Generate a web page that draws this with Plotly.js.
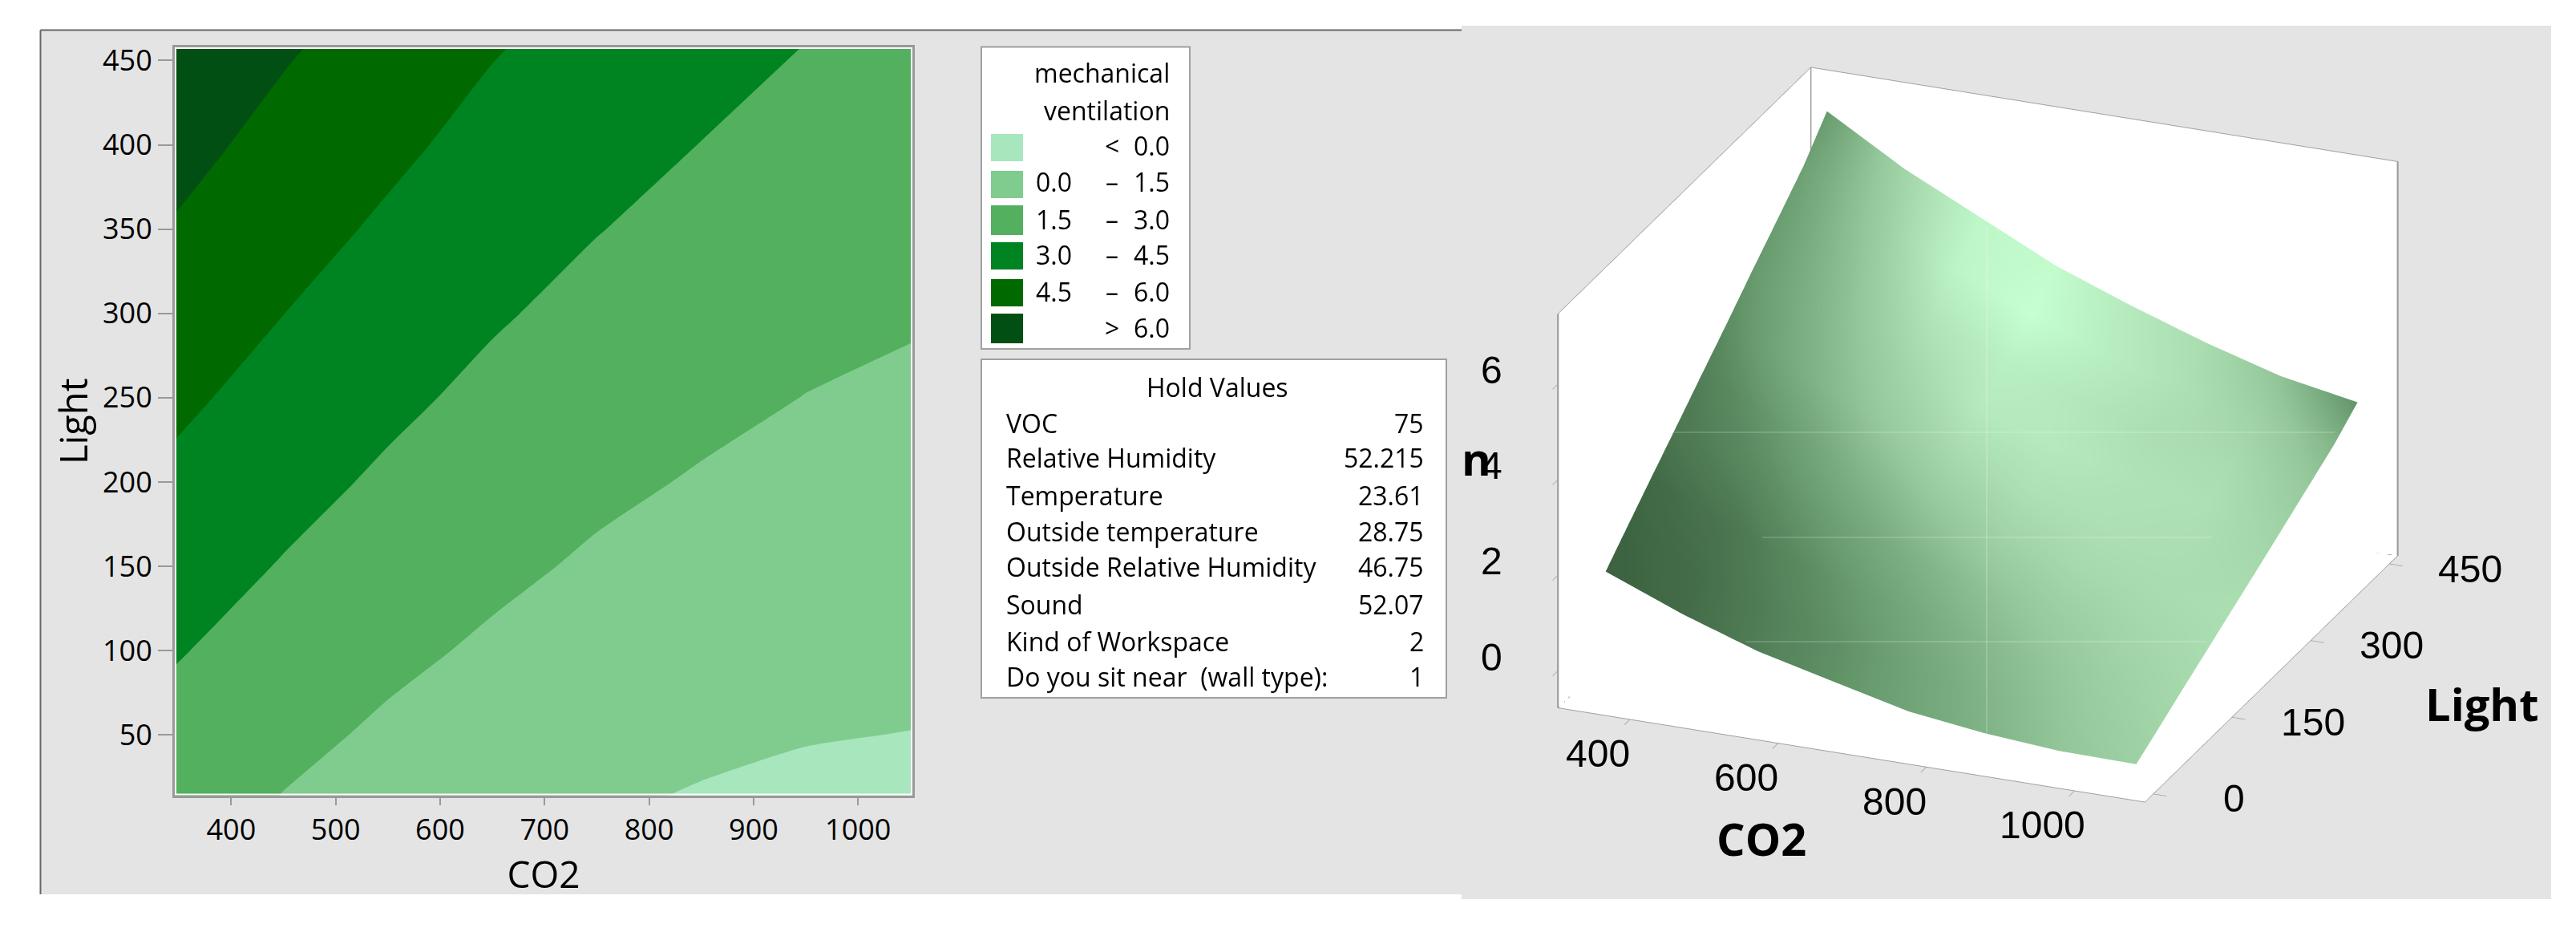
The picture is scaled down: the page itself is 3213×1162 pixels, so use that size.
<!DOCTYPE html>
<html><head><meta charset="utf-8">
<script src="https://cdn.plot.ly/plotly-3.0.1.min.js"></script>
<style>html,body{margin:0;padding:0;background:#fff}</style></head>
<body><div id="chart" style="width:3213px;height:1162px"></div>
<script>
const co2Values = [346,450,550,650,750,850,950,1052];
const lightValues = [14,50,100,150,200,250,300,350,400,458];
const ventilationZ = [
 [2.13,1.47,0.93,0.53,0.15,-0.07,-0.21,-0.25],
 [2.54,1.85,1.29,0.86,0.53,0.22,0.05,-0.02],
 [3.10,2.39,1.79,1.31,0.93,0.62,0.41,0.31],
 [3.66,2.92,2.29,1.77,1.33,1.01,0.77,0.64],
 [4.22,3.45,2.79,2.22,1.75,1.40,1.12,0.96],
 [4.78,3.98,3.29,2.68,2.18,1.80,1.48,1.29],
 [5.34,4.51,3.78,3.14,2.61,2.19,1.84,1.61],
 [5.90,5.03,4.29,3.60,3.04,2.59,2.20,1.95],
 [6.46,5.55,4.79,4.06,3.48,2.98,2.56,2.28],
 [7.11,6.16,5.37,4.59,4.00,3.45,2.98,2.67]
];
const surfaceCo2 = [346,451,552,654,755,857,958,1062];
const surfaceLight = [14,49,98,147,196,245,293,342,391,436];
const surfaceZ = [
 [1.86,1.22,0.70,0.32,-0.05,-0.25,-0.37,-0.39],
 [2.28,1.61,1.07,0.66,0.34,0.05,-0.10,-0.15],
 [2.86,2.17,1.59,1.13,0.76,0.47,0.28,0.20],
 [3.43,2.71,2.10,1.60,1.17,0.87,0.65,0.54],
 [4.01,3.26,2.62,2.07,1.61,1.28,1.02,0.88],
 [4.58,3.80,3.13,2.54,2.05,1.69,1.39,1.22],
 [5.16,4.35,3.64,3.02,2.50,2.10,1.78,1.56],
 [5.73,4.88,4.16,3.49,2.94,2.51,2.14,1.91],
 [6.31,5.42,4.68,3.97,3.40,2.92,2.51,2.26],
 [6.98,6.03,5.28,4.52,3.94,3.41,2.96,2.67]
];
const surfaceShade = [
 [0.00,0.04,0.12,0.20,0.29,0.38,0.49,0.58],
 [0.01,0.05,0.13,0.21,0.31,0.41,0.52,0.61],
 [0.03,0.08,0.17,0.27,0.37,0.47,0.57,0.65],
 [0.09,0.16,0.26,0.36,0.46,0.56,0.63,0.68],
 [0.12,0.24,0.38,0.50,0.60,0.66,0.68,0.70],
 [0.18,0.36,0.52,0.66,0.72,0.72,0.70,0.66],
 [0.23,0.42,0.62,0.80,0.80,0.74,0.72,0.60],
 [0.25,0.48,0.75,0.86,0.78,0.70,0.68,0.52],
 [0.27,0.55,0.90,1.00,0.84,0.72,0.60,0.40],
 [0.24,0.62,0.92,0.96,0.80,0.68,0.48,0.20]
];
const legendColors = ['#A8E6BD','#80CC8E','#52B05E','#008321','#006A00','#024F14'];
const legendLow  = ['','0.0','1.5','3.0','4.5',''];
const legendSep  = ['<','–','–','–','–','>'];
const legendHigh = ['0.0','1.5','3.0','4.5','6.0','6.0'];
const holdLabels = ['VOC','Relative Humidity','Temperature','Outside temperature','Outside Relative Humidity','Sound','Kind of Workspace','Do you sit near  (wall type):'];
const holdValues = ['75','52.215','23.61','28.75','46.75','52.07','2','1'];
const co2Ticks2D = [400,500,600,700,800,900,1000];
const lightTicks2D = [50,100,150,200,250,300,350,400,450];
const co2Ticks3D = [400,600,800,1000];
const lightTicks3D = [0,150,300,450];
const zTicks3D = [0,2,4,6];

const W=3213,H=1162, FONT='"Open Sans", sans-serif';
const px=x=>x/W, py=y=>1-y/H;
const shapes=[], ann=[];
function rect(x0,y0,x1,y1,fill,lc,lw){shapes.push({type:'rect',xref:'paper',yref:'paper',layer:'below',x0:px(x0),x1:px(x1),y0:py(y1),y1:py(y0),fillcolor:fill,line:{color:lc||fill,width:lw||0}});}
function seg(x0,y0,x1,y1,c,w,layer){shapes.push({type:'line',xref:'paper',yref:'paper',layer:layer||'below',x0:px(x0),x1:px(x1),y0:py(y0),y1:py(y1),line:{color:c,width:w}});}
function text(s,x,y,size,anchor,extra){ann.push(Object.assign({text:s,xref:'paper',yref:'paper',x:px(x),y:py(y),xanchor:anchor||'center',yanchor:'middle',showarrow:false,font:{family:FONT,size:size,color:'#000'}},extra||{}));}

rect(50.5,37.5,1823,1115,'#E4E4E4');
rect(1823,32,3182,1121,'#E4E4E4');
seg(50.5,37.5,1823,37.5,'#666',2); seg(50.5,37.5,50.5,1115,'#666',2);

rect(1224,58.5,1484,435,'#fff','#a0a0a0',2);
const swY=[[167,201],[213,247],[256,293],[302,336],[348,382],[391,428]];
const rowY=[181,227,274,318,363,408];
text('mechanical',1461,91,32,'right');
text('ventilation',1461,138,32,'right');
legendColors.forEach((c,i)=>{
  rect(1236,swY[i][0],1276,swY[i][1],c);
  if(legendLow[i]) text(legendLow[i],1339,rowY[i],32,'right');
  text(legendSep[i],1387,rowY[i],32,'center');
  text(legendHigh[i],1461,rowY[i],32,'right');
});
rect(1224,448,1804,870,'#fff','#a0a0a0',2);
text('Hold Values',1518,482,32);
const holdY=[527.5,570,617,662.5,706,753,799,843];
holdLabels.forEach((s,i)=>{text(s.replace('  ','&nbsp; '),1253,holdY[i],32,'left');text(holdValues[i],1778,holdY[i],32,'right');});

shapes.push({type:'rect',xref:'paper',yref:'paper',layer:'above',x0:px(219),x1:px(1137),y0:py(990.5),y1:py(60),line:{color:'#fff',width:2},fillcolor:'rgba(0,0,0,0)'});
[[2086,539,2912,539],[2198,670,2759,670],[2178,800,2752,800],[2478,283,2478,919]].forEach(l=>seg(l[0],l[1],l[2],l[3],'rgba(255,255,255,0.32)',1.2,'above'));

text('<b>n</b>',1842,571,56);
text('<b>CO2</b>',2197,1045,56);
text('<b>Light</b>',3095,877,56);

const TICK3D={family:'"Liberation Sans", sans-serif',size:48,color:'#000'};
const xMin3=303,xMax3=1095,yMin3=-16,yMax3=466,zMin3=-0.78,zMax3=7.47;
const sceneAnn=[];
const tick3=(x,y,z,s,dx,dy)=>sceneAnn.push({x:x,y:y,z:z,text:String(s),showarrow:false,xanchor:'center',yanchor:'middle',xshift:dx,yshift:dy,font:TICK3D});
co2Ticks3D.forEach(v=>tick3(v,yMin3,zMin3,v,-40,-43));
lightTicks3D.forEach(v=>tick3(xMax3,v,zMin3,v,101,-6));
zTicks3D.forEach(v=>tick3(xMin3,yMin3,v,v,-83,17));

const contour={type:'contour',x:co2Values,y:lightValues,z:ventilationZ,showscale:false,autocontour:false,
  contours:{start:0,end:6,size:1.5,coloring:'fill',showlines:false},line:{width:0,smoothing:0.6},hoverinfo:'skip',
  colorscale:legendColors.map((c,i)=>[i/5,c]),xaxis:'x',yaxis:'y'};
const surface={type:'surface',x:surfaceCo2,y:surfaceLight,z:surfaceZ,surfacecolor:surfaceShade,cmin:0,cmax:1,showscale:false,hoverinfo:'skip',
  colorscale:[[0,'#3c6240'],[0.25,'#6a9e70'],[0.5,'#94c89b'],[0.7,'#abdfb2'],[1,'#c6ffd0']],
  lighting:{ambient:1,diffuse:0,specular:0,roughness:1,fresnel:0},scene:'scene',contours:{x:{show:false},y:{show:false},z:{show:false}}};
const edge=(a,b)=>[a,b,[null,null,null]];
const edges=[].concat(
  edge([xMin3,yMin3,zMin3],[xMin3,yMin3,zMax3]),
  edge([xMax3,yMax3,zMin3],[xMax3,yMax3,zMax3]),
  edge([xMin3,yMax3,zMin3],[xMin3,yMax3,zMax3]),
  edge([xMin3,yMin3,zMin3],[xMin3,yMax3,zMin3]),
  edge([xMin3,yMax3,zMin3],[xMax3,yMax3,zMin3]));
const boxLines={type:'scatter3d',mode:'lines',x:edges.map(p=>p[0]),y:edges.map(p=>p[1]),z:edges.map(p=>p[2]),line:{color:'#909090',width:4},hoverinfo:'skip',scene:'scene',connectgaps:false};
const axis3=(range,ticks)=>({range:range,tickvals:ticks,showticklabels:false,title:{text:''},showgrid:false,zeroline:false,showspikes:false,
  showbackground:true,backgroundcolor:'#ffffff',showline:true,mirror:true,linecolor:'#a0a0a0',linewidth:2,ticks:'outside',ticklen:18,tickcolor:'#a0a0a0',tickwidth:2});
const layout={width:W,height:H,margin:{l:0,r:0,t:0,b:0},paper_bgcolor:'#fff',showlegend:false,shapes:shapes,annotations:ann,font:{family:FONT},
  xaxis:{domain:[px(218),px(1138)],range:[346,1052],tickvals:co2Ticks2D,ticks:'outside',ticklen:9,tickwidth:2,tickcolor:'#999',showgrid:false,zeroline:false,showline:true,mirror:true,linecolor:'#999',linewidth:3,
    tickfont:{family:FONT,size:36,color:'#000'},title:{text:'CO2',font:{family:FONT,size:46,color:'#000'},standoff:12},automargin:false},
  yaxis:{domain:[py(992),py(58.6)],range:[14,458],tickvals:lightTicks2D,ticks:'outside',ticklen:18,tickwidth:2,tickcolor:'#999',showgrid:false,zeroline:false,showline:true,mirror:true,linecolor:'#999',linewidth:3,
    tickfont:{family:FONT,size:36,color:'#000'},title:{text:'Light',font:{family:FONT,size:47,color:'#000'},standoff:4},automargin:false},
  scene:{domain:{x:[px(1817),px(3117)],y:[py(1042),py(42)]},aspectmode:'manual',aspectratio:{x:1.58,y:1.677,z:1.07},
    xaxis:axis3([xMin3,xMax3],co2Ticks3D),yaxis:axis3([yMin3,yMax3],lightTicks3D),zaxis:axis3([zMin3,zMax3],zTicks3D),
    annotations:sceneAnn,
    camera:{projection:{type:'orthographic'},up:{x:0,y:0,z:1},center:{x:0,y:0,z:0},eye:{x:0.69,y:-1.70,z:0.79}}}
};
Plotly.newPlot('chart',[contour,surface,boxLines],layout,{displayModeBar:false});
</script></body></html>
